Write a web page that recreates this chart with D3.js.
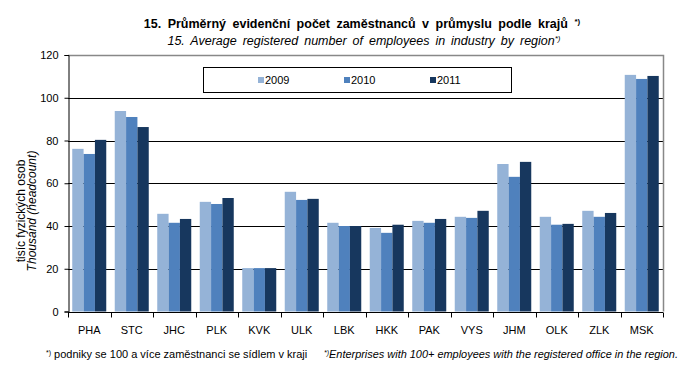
<!doctype html>
<html>
  <head>
    <meta charset="utf-8">
    <script src="https://cdnjs.cloudflare.com/ajax/libs/d3/7.8.5/d3.min.js"></script>
    <style>
      body { margin: 0; background: #fff; }
      svg text { font-family: "Liberation Sans", Arial, sans-serif; fill: #000; }
    </style>
  </head>
  <body>
    <svg id="chart" width="683" height="371"></svg>
    <script>
      /* data */
      var regions = ["PHA", "STC", "JHC", "PLK", "KVK", "ULK", "LBK", "HKK", "PAK", "VYS", "JHM", "OLK", "ZLK", "MSK"];
      var years = ["2009", "2010", "2011"];
      var v2009 = [76.1, 93.8, 45.7, 51.3, 20.3, 56.0, 41.5, 39.1, 42.4, 44.3, 69.0, 44.3, 47.1, 110.7];
      var v2010 = [73.7, 91.0, 41.5, 50.3, 20.3, 52.2, 40.0, 36.8, 41.5, 43.8, 63.0, 40.6, 44.3, 108.8];
      var v2011 = [80.3, 86.3, 43.3, 53.1, 20.3, 52.7, 40.0, 40.6, 43.3, 47.1, 70.0, 41.0, 46.1, 110.2];
      var yTicks = [0, 20, 40, 60, 80, 100, 120];
      var colors = ["#95b3d7", "#4f81bd", "#17375e"];

      var series = [v2009, v2010, v2011];
      var svg = d3.select("#chart");
      var pLeft = 68, pRight = 663, pTop = 55, pBottom = 311.5;

      var x = d3.scaleBand().domain(regions).range([pLeft, pRight]).paddingInner(0.2).paddingOuter(0.1);
      var x1 = d3.scaleBand().domain(years).range([0, x.bandwidth()]);
      var y = d3.scaleLinear().domain([0, 120]).range([pBottom, pTop]);

      /* gridlines */
      svg.append("g").selectAll("line").data(yTicks.filter(function(t){ return t > 0 && t < 120; }))
        .enter().append("line")
          .attr("x1", pLeft).attr("x2", pRight)
          .attr("y1", function(d){ return Math.round(y(d)) + 0.5; }).attr("y2", function(d){ return Math.round(y(d)) + 0.5; })
          .attr("stroke", "#000").attr("stroke-width", 1);

      /* plot frame top and right */
      svg.append("path")
        .attr("d", "M" + pLeft + "," + (Math.round(y(120)) + 0.5) + "H" + (pRight + 0.5) + "V" + pBottom)
        .attr("fill", "none").attr("stroke", "#888").attr("stroke-width", 1.5);

      /* bars */
      var groups = svg.append("g").selectAll("g").data(regions).enter().append("g")
        .attr("transform", function(d){ return "translate(" + x(d) + ",0)"; });
      groups.selectAll("rect").data(function(d, i){ return years.map(function(yr, k){ return {yr: yr, v: series[k][i]}; }); })
        .enter().append("rect")
          .attr("x", function(d){ return x1(d.yr); })
          .attr("width", x1.bandwidth())
          .attr("y", function(d){ return y(d.v); })
          .attr("height", function(d){ return pBottom - y(d.v); })
          .attr("fill", function(d, k){ return colors[k]; });

      /* y axis */
      var yAxis = svg.append("g").attr("transform", "translate(" + (pLeft + 0.5) + ",0)")
        .call(d3.axisLeft(y).tickValues(yTicks).tickSize(4).tickPadding(6));
      yAxis.select(".domain").attr("stroke", "#000");
      yAxis.selectAll("text").style("font-size", "11px").style("fill", "#000");

      /* x axis, ticks between categories */
      var xAxis = svg.append("g").attr("transform", "translate(0," + (Math.round(pBottom) + 0.5) + ")");
      xAxis.append("line").attr("x1", pLeft).attr("x2", pRight).attr("stroke", "#000");
      xAxis.selectAll("line.tk").data(d3.range(regions.length + 1)).enter().append("line")
        .attr("class", "tk")
        .attr("x1", function(i){ return Math.round(pLeft + i * (pRight - pLeft) / regions.length) + 0.5; })
        .attr("x2", function(i){ return Math.round(pLeft + i * (pRight - pLeft) / regions.length) + 0.5; })
        .attr("y1", 0).attr("y2", 5).attr("stroke", "#000");
      xAxis.selectAll("text").data(regions).enter().append("text")
        .attr("x", function(d){ return x(d) + x.bandwidth() / 2; })
        .attr("y", 21)
        .attr("text-anchor", "middle")
        .style("font-size", "11px")
        .text(function(d){ return d; });

      /* y axis title */
      var yt = svg.append("g").attr("transform", "translate(25,211) rotate(-90)");
      yt.append("text").attr("text-anchor", "middle").style("font-size", "12px").text("tisíc fyzických osob");
      yt.append("text").attr("y", 11).attr("text-anchor", "middle").style("font-size", "12px")
        .style("font-style", "italic").text("Thousand (headcount)");

      /* legend */
      svg.append("rect").attr("x", 203.5).attr("y", 67.5).attr("width", 308).attr("height", 25)
        .attr("fill", "#fff").attr("stroke", "#000").attr("stroke-width", 1);
      var lx = [258, 344, 430];
      var lg = svg.append("g").selectAll("g").data(years).enter().append("g")
        .attr("transform", function(d, i){ return "translate(" + lx[i] + ",80)"; });
      lg.append("rect").attr("x", 0).attr("y", -3).attr("width", 6).attr("height", 6)
        .attr("fill", function(d, i){ return colors[i]; });
      lg.append("text").attr("x", 7).attr("y", 4).style("font-size", "11px").text(function(d){ return d; });

      /* titles */
      var t1 = svg.append("text").attr("x", 362).attr("y", 28).attr("text-anchor", "middle")
        .style("font-size", "12.5px").style("font-weight", "bold").style("word-spacing", "3px");
      t1.append("tspan").text("15. Průměrný evidenční počet zaměstnanců v průmyslu podle krajů ");
      t1.append("tspan").attr("dy", -4).style("font-size", "8px").text("*)");
      var t2 = svg.append("text").attr("x", 364).attr("y", 45).attr("text-anchor", "middle")
        .style("font-size", "12.5px").style("font-style", "italic").style("word-spacing", "2.5px");
      t2.append("tspan").text("15. Average registered number of employees in industry by region");
      t2.append("tspan").attr("dy", -4).style("font-size", "8px").text("*)");

      /* footnotes */
      var f1 = svg.append("text").attr("x", 46).attr("y", 358).style("font-size", "11px");
      f1.append("tspan").attr("dy", -3).style("font-size", "7px").text("*)");
      f1.append("tspan").attr("dy", 3).text(" podniky se 100 a více zaměstnanci  se sídlem v kraji");
      var f2 = svg.append("text").attr("x", 324).attr("y", 358).style("font-size", "11px").style("font-style", "italic")
        .attr("textLength", 354).attr("lengthAdjust", "spacingAndGlyphs");
      f2.append("tspan").attr("dy", -3).style("font-size", "7px").text("*)");
      f2.append("tspan").attr("dy", 3).text("Enterprises with 100+ employees with the registered office in the region.");
    </script>
  </body>
</html>
